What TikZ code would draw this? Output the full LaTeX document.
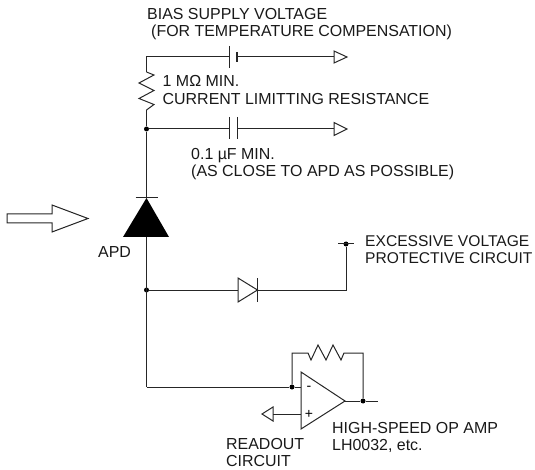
\documentclass[tikz,border=0pt]{standalone}
\usepackage{fontspec}
\setmainfont{Liberation Sans}
\usetikzlibrary{calc}
\tikzset{
    wire/.style={line width=1pt, draw=black!85},
    dot/.style={circle, fill=black, inner sep=0pt, minimum size=5pt},
    lbl/.style={anchor=north west, inner sep=0pt, align=left, text=black!90, font=\fontsize{15.95}{17}\selectfont},
    sign/.style={inner sep=0pt, text=black, font=\fontsize{14}{14}\selectfont}
}

\begin{document}
\begin{tikzpicture}[x=1pt, y=-1pt]
    \useasboundingbox (0, 0) rectangle (535, 470);

    % Define coordinates for the bias line
    \coordinate (T) at (146.5, 57);
    \coordinate (BatL) at (229, 57);
    \coordinate (BatR) at (237, 57);
    \coordinate (OutA) at (334, 57);
    \coordinate (R1a) at (146.5, 72);
    \coordinate (R1b) at (146.5, 110);
    \node[dot] (J1) at (146.5, 129) {};
    \coordinate (CapL) at (229, 129);
    \coordinate (CapR) at (237, 129);
    \coordinate (OutB) at (334, 129);

    % Define coordinates for the APD
    \coordinate (K) at (146.5, 198);
    \coordinate (AL) at (123, 237);
    \coordinate (AR) at (169, 237);
    \coordinate (A) at (146.5, 237);
    \node[dot] (J2) at (146.5, 290) {};

    % Define coordinates for the protective branch
    \coordinate (DL) at (238, 290);
    \coordinate (DK) at (257.5, 290);
    \coordinate (PC) at (346, 290);
    \node[dot] (J3) at (346, 244) {};

    % Define coordinates for the op amp
    \coordinate (C) at (146.5, 387);
    \node[dot] (J4) at (292, 387) {};
    \coordinate (OpM) at (301, 387);
    \coordinate (OpP) at (301, 414);
    \coordinate (OpT) at (345, 401);
    \node[dot] (J5) at (363, 401) {};
    \coordinate (Out) at (378, 401);
    \coordinate (FbL) at (292, 353);
    \coordinate (FbR) at (363, 353);
    \coordinate (R2a) at (308, 353);
    \coordinate (R2b) at (344, 353);
    \coordinate (Rd) at (273, 414);

    % Draw the bias line with its battery and resistor
    \draw[wire] (R1a) -- (T) -- (BatL);
    \draw[wire] ($(BatL)+(0,-11)$) -- ($(BatL)+(0,11)$);
    \draw[line width=1.6pt, draw=black!85] ($(BatR)+(0,-5)$) -- ($(BatR)+(0,5)$);
    \draw[wire] (BatR) -- (OutA);
    \draw[wire] (OutA) -- ++(0,-6) -- ++(13,6) -- ++(-13,6) -- cycle;
    \draw[wire] (R1a) -- ++(7.5,3) -- ++(-15,8) -- ++(15,7.5) -- ++(-15,8) -- ++(15,6) -- (R1b);

    % Draw the capacitor branch
    \draw[wire] (R1b) -- (J1) -- (CapL);
    \draw[wire] ($(CapL)+(0,-12)$) -- ($(CapL)+(0,10)$);
    \draw[wire] ($(CapR)+(0,-12)$) -- ($(CapR)+(0,10)$);
    \draw[wire] (CapR) -- (OutB);
    \draw[wire] (OutB) -- ++(0,-6.5) -- ++(13,6.5) -- ++(-13,6.5) -- cycle;

    % Draw the APD and the light arrow
    \draw[wire] (J1) -- (K);
    \draw[wire] ($(K)+(-11,0)$) -- ($(K)+(11,0)$);
    \fill[black] (K) -- (AR) -- (AL) -- cycle;
    \draw[wire] (A) -- (C);
    \draw[wire] (7, 214) -- (52, 214) -- (52, 205) -- (88, 218.5) -- (52, 232) -- (52, 223) -- (7, 223) -- cycle;

    % Draw the protective branch
    \draw[wire] (J2) -- (DL);
    \draw[wire] (DL) -- ++(0,-12) -- (DK) -- ++(-19.5,12) -- cycle;
    \draw[wire] ($(DK)+(0,-12)$) -- ($(DK)+(0,12)$);
    \draw[wire] (DK) -- (PC) -- (J3);
    \draw[wire] ($(J3)+(-8,0)$) -- ($(J3)+(8,0)$);

    % Draw the op amp
    \draw[wire] (C) -- (J4) -- (OpM);
    \draw[wire] (OpT) -- ++(-44,-29) -- ++(0,57) -- cycle;
    \draw[wire] (OpT) -- (J5) -- (Out);
    \draw[wire] (J4) -- (FbL) -- (R2a) -- ++(3,7) -- ++(7,-15) -- ++(8,15) -- ++(7,-15) -- ++(8,15) -- (R2b) -- (FbR) -- (J5);
    \draw[wire] (OpP) -- (Rd);
    \draw[wire] (Rd) -- ++(0,-7) -- ++(-11,7) -- ++(11,7) -- cycle;
    \node[sign] (minus) at (309, 388) {-};
    \node[sign] (plus) at (309, 414) {+};

    % Labels
    \node[lbl] (bias) at (147, 8) {BIAS SUPPLY VOLTAGE\\\hspace*{4pt}(FOR TEMPERATURE COMPENSATION)};
    \node[lbl] (limit) at (162.5, 75) {1 MΩ MIN.\\[1.5pt]CURRENT LIMITTING RESISTANCE};
    \node[lbl] (cap) at (191, 148) {0.1 µF MIN.\\(AS CLOSE TO APD AS POSSIBLE)};
    \node[lbl] (apd) at (98, 246) {APD};
    \node[lbl, font=\fontsize{15.6}{17}\selectfont] (prot) at (365, 235) {EXCESSIVE VOLTAGE\\PROTECTIVE CIRCUIT};
    \node[lbl] (amp) at (332, 422) {HIGH-SPEED OP AMP\\LH0032, etc.};
    \node[lbl] (read) at (226, 438.5) {READOUT\\CIRCUIT};
\end{tikzpicture}
\end{document}
